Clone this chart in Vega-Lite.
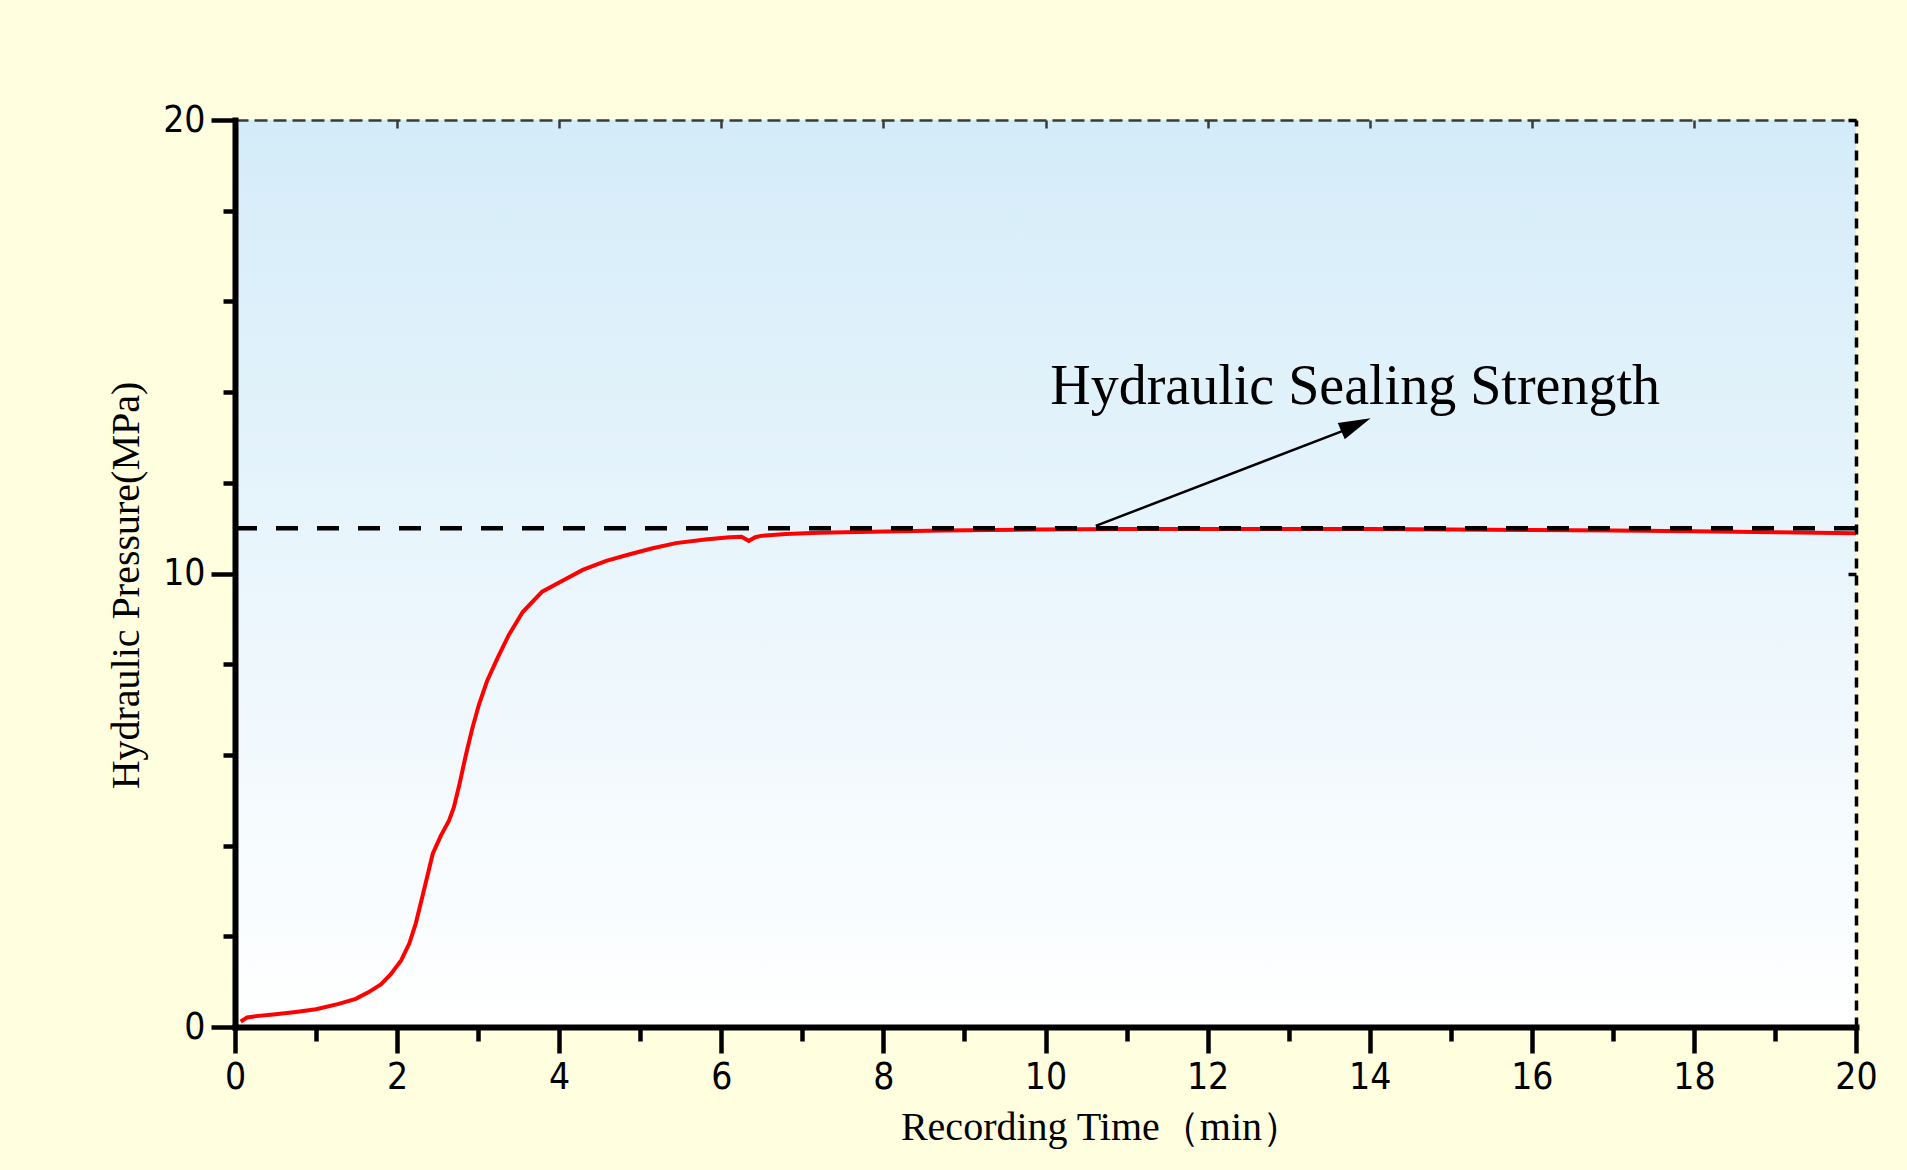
{
  "$schema": "https://vega.github.io/schema/vega-lite/v6.json",
  "width": 1621,
  "height": 907,
  "autosize": "none",
  "padding": {"left": 235, "top": 120, "right": 51, "bottom": 143},
  "background": "#FFFFE0",
  "config": {
    "view": {"stroke": null},
    "axis": {"grid": false}
  },
  "datasets": {
    "pressure": [
      {"t": 0.07, "p": 0.12}, {"t": 0.15, "p": 0.21}, {"t": 0.26, "p": 0.24},
      {"t": 0.5, "p": 0.28}, {"t": 0.75, "p": 0.33}, {"t": 1.0, "p": 0.39},
      {"t": 1.28, "p": 0.51}, {"t": 1.49, "p": 0.62}, {"t": 1.65, "p": 0.77},
      {"t": 1.8, "p": 0.94}, {"t": 1.92, "p": 1.16}, {"t": 2.05, "p": 1.47},
      {"t": 2.15, "p": 1.84}, {"t": 2.23, "p": 2.28}, {"t": 2.31, "p": 2.86},
      {"t": 2.39, "p": 3.45}, {"t": 2.44, "p": 3.82}, {"t": 2.54, "p": 4.22},
      {"t": 2.64, "p": 4.55}, {"t": 2.7, "p": 4.84}, {"t": 2.77, "p": 5.36},
      {"t": 2.85, "p": 6.01}, {"t": 2.93, "p": 6.6}, {"t": 3.01, "p": 7.11},
      {"t": 3.11, "p": 7.63}, {"t": 3.24, "p": 8.14}, {"t": 3.38, "p": 8.65},
      {"t": 3.55, "p": 9.15}, {"t": 3.79, "p": 9.6}, {"t": 4.04, "p": 9.84},
      {"t": 4.29, "p": 10.08}, {"t": 4.58, "p": 10.28}, {"t": 4.86, "p": 10.42},
      {"t": 5.14, "p": 10.55}, {"t": 5.44, "p": 10.67}, {"t": 5.8, "p": 10.75},
      {"t": 6.1, "p": 10.8}, {"t": 6.25, "p": 10.81}, {"t": 6.34, "p": 10.72},
      {"t": 6.42, "p": 10.8}, {"t": 6.49, "p": 10.83}, {"t": 6.8, "p": 10.87},
      {"t": 7.2, "p": 10.9}, {"t": 7.86, "p": 10.92}, {"t": 8.74, "p": 10.95},
      {"t": 9.89, "p": 10.97}, {"t": 11, "p": 10.98}, {"t": 12, "p": 10.98},
      {"t": 13, "p": 10.98}, {"t": 14, "p": 10.98}, {"t": 15, "p": 10.97},
      {"t": 16, "p": 10.96}, {"t": 17, "p": 10.95}, {"t": 18, "p": 10.93},
      {"t": 19, "p": 10.91}, {"t": 20, "p": 10.89}
    ],
    "strength": [{"p": 11.0}],
    "arrow": [{"t": 10.62, "p": 11.05}, {"t": 13.75, "p": 13.2}],
    "head": [{"t": 13.83, "p": 13.28}],
    "note": [{"t": 13.82, "p": 13.74, "label": "Hydraulic Sealing Strength"}]
  },
  "layer": [
    {
      "data": {"values": [{"x0": 0, "x1": 20, "y0": 0, "y1": 20}]},
      "mark": {
        "type": "rect",
        "fill": {
          "gradient": "linear", "x1": 0, "y1": 0, "x2": 0, "y2": 1,
          "stops": [{"offset": 0, "color": "#D4ECF9"}, {"offset": 1, "color": "#FFFFFF"}]
        }
      },
      "encoding": {
        "x": {
          "field": "x0", "type": "quantitative",
          "scale": {"domain": [0, 20], "nice": false},
          "axis": {
            "orient": "top", "values": [2, 4, 6, 8, 10, 12, 14, 16, 18],
            "labels": false, "title": null, "zindex": 2,
            "domainColor": "#3A3A3A", "domainWidth": 2.5, "domainDash": [13, 6],
            "tickColor": "#3A3A3A", "tickWidth": 2.5, "tickSize": -8
          }
        },
        "x2": {"field": "x1"},
        "y": {
          "field": "y0", "type": "quantitative",
          "scale": {"domain": [0, 20], "nice": false},
          "axis": {
            "orient": "right", "values": [0, 10, 20],
            "labels": false, "title": null, "zindex": 2,
            "domainColor": "black", "domainWidth": 3.5, "domainDash": [10, 7],
            "tickColor": "black", "tickWidth": 3.5, "tickSize": -8
          }
        },
        "y2": {"field": "y1"}
      }
    },
    {
      "data": {"name": "pressure"},
      "mark": {"type": "line", "color": "#FF0000", "strokeWidth": 4},
      "encoding": {
        "x": {
          "field": "t", "type": "quantitative",
          "scale": {"domain": [0, 20], "nice": false},
          "axis": {
            "orient": "bottom", "zindex": 2,
            "values": [0, 1, 2, 3, 4, 5, 6, 7, 8, 9, 10, 11, 12, 13, 14, 15, 16, 17, 18, 19, 20],
            "labelExpr": "datum.value % 2 === 0 ? datum.label : ''",
            "title": "Recording Time（min）",
            "titleFont": "Liberation Serif", "titleFontSize": 40, "titleFontWeight": "normal",
            "titleColor": "black", "titlePadding": 12, "titleX": 866,
            "labelFont": "DejaVu Sans Condensed, Liberation Sans Narrow, Liberation Sans", "labelFontSize": 37,
            "labelColor": "black", "labelPadding": 6, "labelFlush": false,
            "domainColor": "black", "domainWidth": 6, "domainCap": "square",
            "tickColor": "black", "tickWidth": 4.5,
            "tickSize": {"condition": {"test": "datum.value % 2 === 0", "value": 26}, "value": 14}
          }
        },
        "y": {
          "field": "p", "type": "quantitative",
          "scale": {"domain": [0, 20], "nice": false},
          "axis": {
            "orient": "left", "zindex": 2,
            "values": [0, 2, 4, 6, 8, 10, 12, 14, 16, 18, 20],
            "labelExpr": "datum.value % 10 === 0 ? datum.label : ''",
            "title": "Hydraulic Pressure(MPa)",
            "titleFont": "Liberation Serif", "titleFontSize": 40, "titleFontWeight": "normal",
            "titleColor": "black", "titlePadding": 16, "titleY": 465,
            "labelFont": "DejaVu Sans Condensed, Liberation Sans Narrow, Liberation Sans", "labelFontSize": 37,
            "labelColor": "black", "labelPadding": 6, "labelFlush": false,
            "domainColor": "black", "domainWidth": 6, "domainCap": "square",
            "tickColor": "black", "tickWidth": 4.5,
            "tickSize": {"condition": {"test": "datum.value % 10 === 0", "value": 24}, "value": 12}
          }
        }
      }
    },
    {
      "data": {"name": "strength"},
      "mark": {"type": "rule", "color": "black", "strokeWidth": 4.5, "strokeDash": [22, 19]},
      "encoding": {"y": {"field": "p", "type": "quantitative", "axis": null}}
    },
    {
      "data": {"name": "arrow"},
      "mark": {"type": "line", "color": "black", "strokeWidth": 2.5},
      "encoding": {
        "x": {"field": "t", "type": "quantitative", "axis": null},
        "y": {"field": "p", "type": "quantitative", "axis": null}
      }
    },
    {
      "data": {"name": "head"},
      "mark": {
        "type": "point", "filled": true, "color": "black", "opacity": 1,
        "shape": "M1,0L-1,-0.55L-1,0.55Z", "size": 1024, "angle": -23.6
      },
      "encoding": {
        "x": {"field": "t", "type": "quantitative", "axis": null},
        "y": {"field": "p", "type": "quantitative", "axis": null}
      }
    },
    {
      "data": {"name": "note"},
      "mark": {
        "type": "text", "font": "Liberation Serif", "fontSize": 56,
        "color": "black", "align": "center", "baseline": "alphabetic"
      },
      "encoding": {
        "x": {"field": "t", "type": "quantitative", "axis": null},
        "y": {"field": "p", "type": "quantitative", "axis": null},
        "text": {"field": "label"}
      }
    }
  ],
  "resolve": {"axis": {"x": "independent", "y": "independent"}}
}
